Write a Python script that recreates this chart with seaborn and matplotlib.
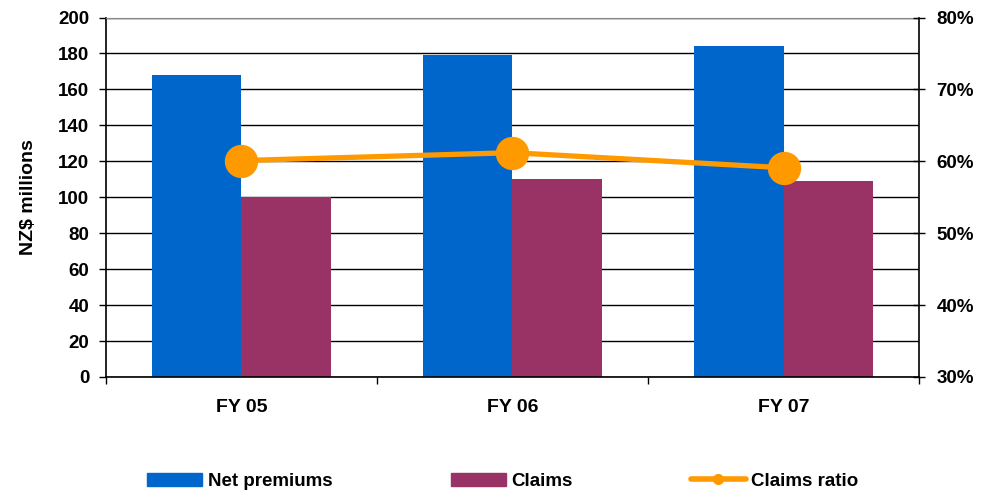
import pandas as pd
import matplotlib.pyplot as plt
import seaborn as sns
from matplotlib.ticker import MultipleLocator, FuncFormatter
from matplotlib.patches import Patch
from matplotlib.lines import Line2D

years = ['FY 05', 'FY 06', 'FY 07']
net_premiums = [168, 179, 184]
claims = [100, 110, 109]
claims_ratio = [60.1, 61.2, 59.1]

sns.set_style('white')
plt.rcParams['font.family'] = ['Liberation Sans', 'DejaVu Sans']
plt.rcParams['font.weight'] = 'bold'
for k in ['text.color', 'axes.labelcolor', 'xtick.color', 'ytick.color']:
    plt.rcParams[k] = 'black'

df = pd.DataFrame({'year': years * 2,
                   'value': net_premiums + claims,
                   'series': ['Net premiums'] * 3 + ['Claims'] * 3})

fig = plt.figure(figsize=(9.96, 4.93), dpi=100)
ax = fig.add_axes([0.1064, 0.2353, 0.8163, 0.7292])
sns.barplot(data=df, x='year', y='value', hue='series', ax=ax,
            palette=['#0066CC', '#993366'], width=0.664, saturation=1,
            linewidth=0, legend=False)
ax.set_xlim(-0.5, 2.5)
ax.set_ylim(0, 200)
ax.yaxis.set_major_locator(MultipleLocator(20))
ax.grid(axis='y', color='black', linewidth=1)
ax.set_axisbelow(True)
ax.set_xlabel('')
ax.set_ylabel('NZ$ millions', fontsize=14, fontweight='bold', labelpad=15)
ax.tick_params(axis='y', direction='out', length=5, width=1, labelsize=13.5, pad=7, left=True)
ax.set_xticks([0, 1, 2])
ax.set_xticklabels(years, fontsize=14, fontweight='bold')
ax.set_xticks([-0.5, 0.5, 1.5, 2.5], minor=True)
ax.tick_params(axis='x', which='major', length=0, pad=16)
ax.tick_params(axis='x', which='minor', direction='out', length=5, width=1, bottom=True)
for s in ['left', 'bottom']:
    ax.spines[s].set_color('black')
    ax.spines[s].set_linewidth(1.2)
ax.spines['top'].set_color('#888888')
ax.spines['right'].set_visible(False)

ax2 = ax.twinx()
sns.lineplot(x=years, y=claims_ratio, ax=ax2, color='#FF9900', linewidth=3.8,
             marker='o', markersize=24, markeredgewidth=0, sort=False)
ax2.set_ylim(30, 80)
ax2.yaxis.set_major_locator(MultipleLocator(10))
ax2.yaxis.set_major_formatter(FuncFormatter(lambda v, p: f'{v:.0f}%'))
ax2.tick_params(axis='y', direction='inout', length=9, width=1, labelsize=13.5, pad=8, right=True)
ax2.spines['right'].set_color('black')
ax2.spines['right'].set_linewidth(1.2)
for s in ['left', 'top', 'bottom']:
    ax2.spines[s].set_visible(False)

handles = [Patch(color='#0066CC'), Patch(color='#993366'),
           Line2D([], [], color='#FF9900', linewidth=4, marker='o', markersize=7)]
fig.legend(handles, ['Net premiums', 'Claims', 'Claims ratio'], loc='center',
           bbox_to_anchor=(0.505, 0.024), ncol=3, frameon=False,
           prop={'size': 13.5, 'weight': 'bold'}, handlelength=2.93,
           handleheight=0.7, columnspacing=6.3, handletextpad=0.3)

fig.savefig('out.png', dpi=100)
